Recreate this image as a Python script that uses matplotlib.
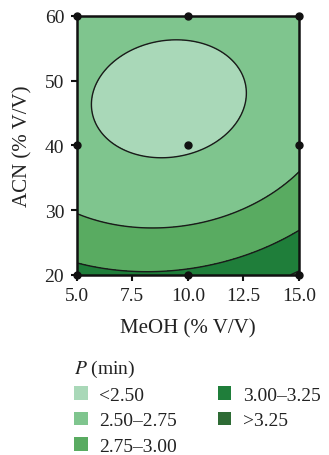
import numpy as np
import matplotlib.pyplot as plt
from matplotlib.patches import Patch

plt.rcParams['font.family'] = ['Liberation Serif', 'DejaVu Serif']
plt.rcParams['mathtext.fontset'] = 'stix'
plt.rcParams['font.size'] = 14

# design points (MeOH % V/V, ACN % V/V) and response P (min)
meoh = [5.0, 10.0, 15.0, 5.0, 10.0, 15.0, 5.0, 10.0, 15.0]
acn = [20, 20, 20, 40, 40, 40, 60, 60, 60]
p_min = [3.075, 3.040, 3.278, 2.558, 2.482, 2.680, 2.681, 2.565, 2.723]

levels = [0, 2.50, 2.75, 3.00, 3.25, 10]
colors = ['#a9d8b8', '#7fc58e', '#59ab61', '#1f7e3a', '#2e6b35']
labels = ['<2.50', '2.50\u20132.75', '2.75\u20133.00', '3.00\u20133.25', '>3.25']

# quadratic response surface fitted on coded variables
def terms(x, y):
    u = (np.asarray(x) - 10) / 5
    v = (np.asarray(y) - 40) / 20
    return [np.ones_like(u), u, v, u * u, v * v, u * v]

A = np.column_stack(terms(meoh, acn))
coef, *_ = np.linalg.lstsq(A, np.array(p_min), rcond=None)

xs = np.linspace(5, 15, 300)
ys = np.linspace(20, 60, 300)
X, Y = np.meshgrid(xs, ys)
Z = sum(c * t for c, t in zip(coef, terms(X, Y)))

fig = plt.figure(figsize=(3.29, 4.56), dpi=100)
ax = fig.add_axes([0.233, 0.395, 0.676, 0.568])
ax.contourf(X, Y, Z, levels=levels, colors=colors)
ax.contour(X, Y, Z, levels=levels[1:-1], colors='#1a1a1a', linewidths=1.0)
ax.plot(meoh, acn, 'o', color='#111111', ms=5, clip_on=False, zorder=5)

ax.set_xlim(5, 15)
ax.set_ylim(20, 60)
ax.set_xticks([5, 7.5, 10, 12.5, 15])
ax.set_xticklabels(['5.0', '7.5', '10.0', '12.5', '15.0'])
ax.set_yticks([20, 30, 40, 50, 60])
ax.tick_params(direction='out', length=4, width=1.5, colors='#111111',
               labelcolor='#222222', pad=5)
for s in ax.spines.values():
    s.set_linewidth(1.8)
    s.set_color('#111111')
ax.set_xlabel('MeOH (% V/V)', color='#222222', labelpad=10, fontsize=15)
ax.set_ylabel('ACN (% V/V)', color='#222222', labelpad=9, fontsize=15)

handles = [Patch(facecolor=c, edgecolor='none') for c in colors]
leg = fig.legend(handles, labels, title='$P$ (min)', ncol=2,
                 loc='upper left', bbox_to_anchor=(0.225, 0.214),
                 frameon=False, borderpad=0, borderaxespad=0,
                 handlelength=0.7, handleheight=0.7, handletextpad=0.6,
                 labelspacing=0.4, columnspacing=2.1, alignment='left')
for t in leg.get_texts():
    t.set_color('#222222')
leg.get_title().set_color('#222222')

fig.savefig('out.png')
